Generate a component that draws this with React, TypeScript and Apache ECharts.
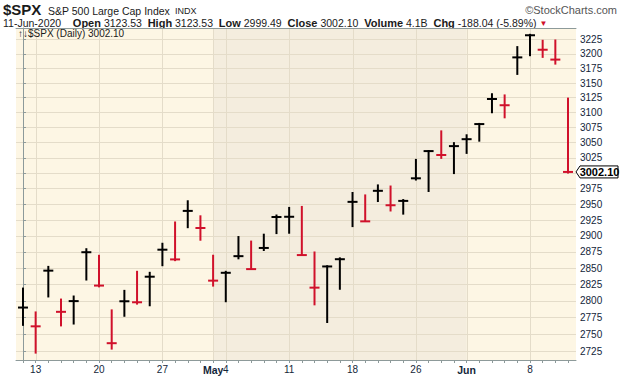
import React, { useEffect, useRef } from 'react';
import * as echarts from 'echarts';

// ---- data ----
const dates = [
  'Apr 9', 'Apr 13', 'Apr 14', 'Apr 15', 'Apr 16', 'Apr 17', 'Apr 20', 'Apr 21', 'Apr 22', 'Apr 23', 'Apr 24',
  'Apr 27', 'Apr 28', 'Apr 29', 'Apr 30', 'May 1', 'May 4', 'May 5', 'May 6', 'May 7', 'May 8',
  'May 11', 'May 12', 'May 13', 'May 14', 'May 15', 'May 18', 'May 19', 'May 20', 'May 21', 'May 22',
  'May 26', 'May 27', 'May 28', 'May 29', 'Jun 1', 'Jun 2', 'Jun 3', 'Jun 4', 'Jun 5',
  'Jun 8', 'Jun 9', 'Jun 10', 'Jun 11',
];
const highs = [
  2818.57, 2782.46, 2851.85, 2801.88, 2806.51, 2879.22, 2868.98, 2785.54, 2815.1, 2844.24, 2842.71,
  2887.72, 2921.15, 2954.86, 2930.91, 2869.09, 2844.24, 2898.23, 2891.11, 2901.92, 2932.16,
  2944.25, 2945.82, 2874.14, 2852.8, 2865.01, 2968.09, 2964.21, 2980.29, 2978.5, 2956.76,
  3021.72, 3036.25, 3068.67, 3049.17, 3062.18, 3081.07, 3130.94, 3128.91, 3211.72,
  3233.13, 3222.71, 3223.27, 3123.53,
];
const lows = [
  2762.36, 2721.17, 2805.1, 2761.54, 2764.32, 2830.88, 2820.43, 2727.1, 2775.95, 2794.26, 2791.76,
  2852.89, 2860.71, 2912.16, 2892.47, 2821.61, 2797.85, 2863.55, 2847.65, 2876.48, 2902.88,
  2903.44, 2869.59, 2793.15, 2766.64, 2816.78, 2913.86, 2922.35, 2953.63, 2938.57, 2933.59,
  2988.17, 2969.75, 3023.4, 2998.61, 3031.54, 3051.64, 3098.9, 3090.41, 3163.84,
  3196.0, 3193.11, 3181.49, 2999.49,
];
const closes = [
  2789.82, 2761.63, 2846.06, 2783.36, 2799.55, 2874.56, 2823.16, 2736.56, 2799.31, 2797.8, 2836.74,
  2878.48, 2863.39, 2939.51, 2912.43, 2830.71, 2842.74, 2868.44, 2848.42, 2881.19, 2929.8,
  2930.19, 2870.12, 2820.0, 2852.5, 2863.7, 2953.91, 2922.94, 2971.61, 2948.51, 2955.45,
  2991.77, 3036.13, 3029.73, 3044.31, 3055.73, 3080.82, 3122.87, 3112.35, 3193.93,
  3232.39, 3207.18, 3190.14, 3002.1,
];
const priorClose = 2749.98;
const lastOpen = 3123.53;
const lastVolume = '4.1B';
const lastDateText = '11-Jun-2020';

const yTickValues = [
  2725, 2750, 2775, 2800, 2825, 2850, 2875, 2900, 2925, 2950, 2975, 3000,
  3025, 3050, 3075, 3100, 3125, 3150, 3175, 3200, 3225,
];
const yHiddenLabel = [3000];
const xLabelIndex = [1, 6, 11, 15, 16, 21, 26, 31, 35, 40];
const xLabelText = ['13', '20', '27', 'May', '4', '11', '18', '26', 'Jun', '8'];
const xBoldLabels = ['May', 'Jun'];
const weekGridIndex = [1, 6, 11, 15, 16, 21, 26, 31, 35, 40];
const shadedMonth = [15, 35];

// ---- layout / style ----
const Y_MIN = 2711.8;
const Y_MAX = 3245.1;
const X_MIN = -0.55;
const X_MAX = 43.63;
const FONT = '"Liberation Sans", Arial, sans-serif';
const RED = '#D0112B';
const BLACK = '#000000';
const CREAM = '#FDF6E4';
const MAY = '#F4EDDE';
const GRID = '#E4DCC9';
const AXIS = '#8D9A9A';
const LABEL = '#13263A';

export default function App() {
  const ref = useRef<HTMLDivElement>(null);

  useEffect(() => {
    if (!ref.current) return;
    const chart = echarts.init(ref.current, undefined, { renderer: 'svg' });
    const lnMin = Math.log(Y_MIN);
    const lnMax = Math.log(Y_MAX);
    const n = closes.length;
    const colors = closes.map((c, i) => (c >= (i ? closes[i - 1] : priorClose) ? BLACK : RED));
    const barData = closes.map((c, i) => [i, Math.log(highs[i]), Math.log(lows[i]), Math.log(c)]);
    const last = closes[n - 1];
    const chg = last - closes[n - 2];
    const pct = (chg / closes[n - 2]) * 100;
    const fmt = (v: number) => v.toFixed(2);

    const header2 =
      `{n|${lastDateText}}{s|    }{b|Open} {n|${fmt(lastOpen)}}{s|  }{b|High} {n|${fmt(highs[n - 1])}}{s|  }` +
      `{b|Low} {n|${fmt(lows[n - 1])}}{s|  }{b|Close} {n|${fmt(last)}}{s|  }{b|Volume} {n|${lastVolume}}{s|  }` +
      `{b|Chg} {n|${fmt(chg)} (${fmt(pct)}%)} {r|▼}`;

    const option: any = {
      animation: false,
      backgroundColor: '#ffffff',
      grid: { left: 16, top: 28, width: 560, height: 332, containLabel: false, outerBoundsMode: 'none', show: false },
      xAxis: [
        {
          type: 'value', min: X_MIN, max: X_MAX, position: 'bottom', z: 3,
          axisLine: { show: true, lineStyle: { color: AXIS, width: 1 } },
          axisTick: { show: true, length: 3, customValues: dates.map((_, i) => i), lineStyle: { color: AXIS } },
          axisLabel: {
            customValues: xLabelIndex,
            margin: 4,
            color: LABEL,
            fontSize: 10,
            fontFamily: FONT,
            formatter: (v: number) => {
              const k = xLabelIndex.indexOf(Math.round(v));
              if (k < 0) return '';
              const t = xLabelText[k];
              return xBoldLabels.includes(t) ? `{b|${t}}` : t;
            },
            rich: { b: { fontWeight: 'bold', fontSize: 10.5, fontFamily: FONT, color: LABEL } },
          },
          splitLine: { show: false },
        },
        {
          type: 'value', min: X_MIN, max: X_MAX, position: 'top', z: 3,
          axisLine: { show: true, lineStyle: { color: AXIS, width: 1 } },
          axisTick: { show: false }, axisLabel: { show: false }, splitLine: { show: false },
        },
      ],
      yAxis: [
        {
          type: 'value', min: lnMin, max: lnMax, position: 'right', z: 2,
          axisLine: { show: true, lineStyle: { color: AXIS, type: 'dotted' } },
          axisTick: { show: true, length: 3, customValues: yTickValues.map(Math.log), lineStyle: { color: AXIS } },
          axisLabel: {
            customValues: yTickValues.filter((v) => !yHiddenLabel.includes(v)).map(Math.log),
            formatter: (v: number) => String(Math.round(Math.exp(v))),
            color: LABEL, fontSize: 10, fontFamily: FONT, margin: 4,
          },
          splitLine: { show: true, lineStyle: { color: GRID, width: 1 } },
        },
        {
          type: 'value', min: lnMin, max: lnMax, position: 'left', z: 3,
          axisLine: { show: true, lineStyle: { color: AXIS, width: 1 } },
          axisTick: { show: false }, axisLabel: { show: false }, splitLine: { show: false },
        },
      ],
      series: [
        {
          type: 'custom', name: 'shade', z: 1, silent: true,
          data: [[shadedMonth[0], shadedMonth[1]]],
          encode: { x: [0, 1] },
          renderItem: (params: any, api: any) => {
            const cs = params.coordSys;
            const a = api.coord([api.value(0), lnMax]);
            const b = api.coord([api.value(1), lnMin]);
            return {
              type: 'group',
              children: [
                { type: 'rect', shape: { x: cs.x, y: cs.y, width: cs.width, height: cs.height }, style: { fill: CREAM } },
                { type: 'rect', shape: { x: a[0], y: a[1], width: b[0] - a[0], height: b[1] - a[1] }, style: { fill: MAY } },
              ],
            };
          },
        },
        {
          type: 'custom', name: 'vgrid', z: 2, silent: true,
          data: weekGridIndex.map((i) => [i]),
          encode: { x: 0 },
          renderItem: (params: any, api: any) => {
            const a = api.coord([api.value(0), lnMax]);
            const b = api.coord([api.value(0), lnMin]);
            const x = Math.round(a[0]) + 0.5;
            return { type: 'line', shape: { x1: x, y1: a[1], x2: x, y2: b[1] }, style: { stroke: GRID, lineWidth: 1 } };
          },
        },
        {
          type: 'custom', name: '$SPX', z: 4, silent: true,
          data: barData,
          encode: { x: 0, y: [1, 2, 3] },
          renderItem: (params: any, api: any) => {
            const i = api.value(0);
            const hi = api.coord([i, api.value(1)]);
            const lo = api.coord([i, api.value(2)]);
            const cl = api.coord([i, api.value(3)]);
            const color = colors[params.dataIndex];
            return {
              type: 'group',
              children: [
                { type: 'line', shape: { x1: hi[0], y1: hi[1] - 1, x2: lo[0], y2: lo[1] }, style: { stroke: color, lineWidth: 2 } },
                { type: 'line', shape: { x1: cl[0] - 5, y1: cl[1], x2: cl[0] + 5, y2: cl[1] }, style: { stroke: color, lineWidth: 2 } },
              ],
            };
          },
        },
        {
          type: 'custom', name: 'lastPrice', z: 6, silent: true,
          data: [[n - 1, Math.log(last)]],
          encode: { x: 0, y: 1 },
          renderItem: (params: any, api: any) => {
            const cs = params.coordSys;
            const p = api.coord([api.value(0), api.value(1)]);
            const x0 = cs.x + cs.width;
            const y = p[1];
            return {
              type: 'group',
              children: [
                {
                  type: 'polygon',
                  shape: { points: [[x0, y], [x0 + 4, y - 6], [x0 + 42, y - 6], [x0 + 42, y + 6], [x0 + 4, y + 6]] },
                  style: { fill: '#ffffff', stroke: '#000000', lineWidth: 1 },
                },
                {
                  type: 'text', x: x0 + 23.5, y: y + 0.5,
                  style: { text: fmt(last), font: `bold 11px ${FONT}`, fill: '#000', align: 'center', verticalAlign: 'middle' },
                },
              ],
            };
          },
        },
      ],
      graphic: [
        { type: 'text', x: 3, y: 9.5, style: { text: '$SPX', font: `bold 15px ${FONT}`, fill: '#1a1a1a', verticalAlign: 'middle' } },
        { type: 'text', x: 48, y: 10.5, style: { text: 'S&P 500 Large Cap Index', font: `10.5px ${FONT}`, fill: '#1a1a1a', verticalAlign: 'middle' } },
        { type: 'text', x: 175, y: 11, style: { text: 'INDX', font: `9px ${FONT}`, fill: '#1a1a1a', verticalAlign: 'middle' } },
        { type: 'text', x: 617, y: 10, style: { text: '©StockCharts.com', font: `11px ${FONT}`, fill: '#555555', align: 'right', verticalAlign: 'middle' } },
        {
          type: 'text', x: 3, y: 23,
          style: {
            text: header2, font: `10.5px ${FONT}`, fill: '#1a1a1a', verticalAlign: 'middle',
            rich: {
              n: { fontSize: 10.5, fontFamily: FONT, fill: '#1a1a1a' },
              s: { fontSize: 10.5, fontFamily: FONT },
              b: { fontSize: 11, fontFamily: FONT, fontWeight: 'bold', fill: '#1a1a1a' },
              r: { fontSize: 8, fontFamily: FONT, fill: RED },
            },
          },
        },
        { type: 'text', x: 18, y: 33.5, z: 10, style: { text: `↑↓$SPX (Daily) ${fmt(last)}`, font: `10px ${FONT}`, fill: '#1a1a1a', verticalAlign: 'middle' } },
      ],
    };
    chart.setOption(option);
    return () => chart.dispose();
  }, []);

  return <div ref={ref} style={{ position: 'fixed', left: 0, top: 0, width: 620, height: 376 }} />;
}
